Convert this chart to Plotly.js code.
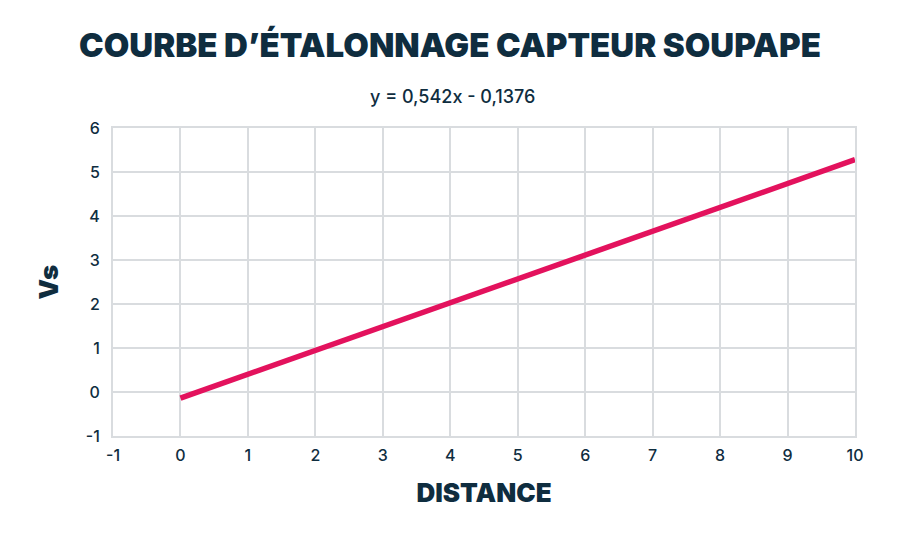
<!DOCTYPE html>
<html>
<head>
<meta charset="utf-8">
<script src="https://cdn.plot.ly/plotly-3.0.1.min.js"></script>
<style>
  html, body { margin: 0; padding: 0; background: #fff; }
  #chart { width: 900px; height: 540px; }
</style>
</head>
<body>
<div id="chart"></div>
<script>
// distance (x) and sensor voltage Vs (y)
const distance = [0, 1, 2, 3, 4, 5, 6, 7, 8, 9, 10];
const vs = [-0.14, 0.40, 0.95, 1.49, 2.03, 2.57, 3.11, 3.66, 4.20, 4.74, 5.28];

const xTicks = [-1, 0, 1, 2, 3, 4, 5, 6, 7, 8, 9, 10];
const yTicks = [-1, 0, 1, 2, 3, 4, 5, 6];

const navy = "#0f2d3f";
const gridColor = "#d9dcdf";

const data = [{
  x: distance,
  y: vs,
  mode: "lines",
  line: {color: "#e3125d", width: 5.5},
  hoverinfo: "x+y"
}];

const layout = {
  width: 900,
  height: 540,
  paper_bgcolor: "#fff",
  plot_bgcolor: "#fff",
  showlegend: false,
  margin: {t: 128, l: 113, b: 104, r: 45},
  font: {family: "Inter, Lato, sans-serif", color: navy, size: 16},
  title: {
    text: "COURBE D’ÉTALONNAGE CAPTEUR SOUPAPE",
    font: {family: "Inter, 'Noto Sans', sans-serif", size: 33, color: navy, weight: 900},
    x: 0.5, xanchor: "center",
    y: 0.915, yanchor: "middle"
  },
  annotations: [{
    text: "y = 0,542x - 0,1376",
    xref: "paper", yref: "paper",
    x: 0.458, y: 1.0,
    xanchor: "center", yanchor: "bottom", yshift: 19,
    showarrow: false,
    font: {family: "Inter, Lato, sans-serif", size: 18, color: navy, weight: 500}
  }],
  xaxis: {
    range: [-1, 10],
    tickvals: xTicks,
    ticktext: xTicks.map(String),
    showgrid: true, gridcolor: gridColor, gridwidth: 1.5,
    zeroline: false,
    showline: true, linecolor: gridColor, linewidth: 2, mirror: true,
    ticks: "", ticklabelstandoff: 4,
    tickfont: {size: 16, color: navy, weight: 500},
    title: {
      text: "DISTANCE",
      font: {family: "Inter, 'Noto Sans', sans-serif", size: 26, color: navy, weight: 900},
      standoff: 20
    }
  },
  yaxis: {
    range: [-1, 6],
    tickvals: yTicks,
    ticktext: yTicks.map(String),
    showgrid: true, gridcolor: gridColor, gridwidth: 1.5,
    zeroline: false,
    showline: true, linecolor: gridColor, linewidth: 2, mirror: true,
    ticks: "", ticklabelstandoff: 8,
    tickfont: {size: 16, color: navy, weight: 500},
    title: {
      text: "Vs",
      font: {family: "Inter, 'Noto Sans', sans-serif", size: 26, color: navy, weight: 900},
      standoff: 20
    }
  }
};

const config = {responsive: false, displayModeBar: false};

Plotly.newPlot("chart", data, layout, config);
</script>
</body>
</html>
